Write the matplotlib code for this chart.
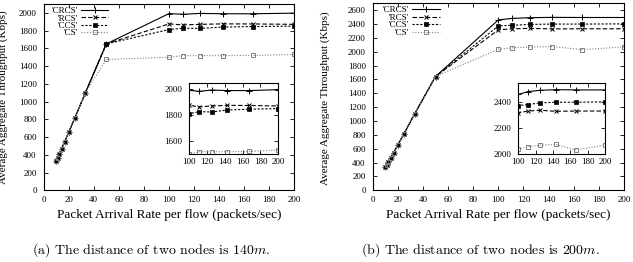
import matplotlib
matplotlib.use("Agg")
import matplotlib.pyplot as plt

plt.rcParams['font.family'] = ['Liberation Serif', 'DejaVu Serif']
plt.rcParams['mathtext.fontset'] = 'cm'

# packet arrival rate per flow (packets/sec)
rate = [10, 11.1, 12.5, 14.3, 16.7, 20, 25, 33.3, 50, 100, 111.1, 125, 142.9, 166.7, 200]

# (a) distance 140m
crcs_a = [330, 365, 410, 470, 545, 655, 820, 1100, 1650, 1992, 1984, 1994, 1990, 1990, 1997]
rcs_a = [330, 365, 410, 470, 545, 655, 820, 1100, 1650, 1876, 1864, 1871, 1876, 1875, 1871]
ccs_a = [330, 365, 410, 470, 545, 655, 820, 1100, 1650, 1812, 1827, 1825, 1840, 1846, 1851]
cs_a = [330, 365, 410, 470, 545, 655, 820, 1100, 1475, 1500, 1518, 1518, 1518, 1520, 1531]

# (b) distance 200m
crcs_b = [330, 365, 410, 470, 545, 655, 820, 1100, 1643, 2460, 2482, 2492, 2497, 2495, 2495]
rcs_b = [330, 365, 410, 470, 545, 655, 820, 1100, 1643, 2317, 2332, 2338, 2330, 2332, 2332]
ccs_b = [330, 365, 410, 470, 545, 655, 820, 1100, 1643, 2374, 2382, 2395, 2400, 2400, 2403]
cs_b = [330, 365, 410, 470, 545, 655, 820, 1100, 1643, 2036, 2057, 2068, 2075, 2031, 2070]

labels = ["'CRCS'", "'RCS'", "'CCS'", "'CS'"]
styles = [
    dict(color='black', ls='-', marker='+', ms=4, mew=0.7),
    dict(color='black', ls=(0, (4, 2)), marker='x', ms=2.6, mew=0.7),
    dict(color='black', ls=(0, (2, 1.5)), marker='s', ms=2.3, mew=0.5),
    dict(color='#808080', ls=(0, (1, 1.5)), marker='s', ms=3.3, mew=0.7, mfc='none'),
]


def draw_lines(ax, series, with_labels):
    for ys, lab, st in zip(series, labels, styles):
        ax.plot(rate, ys, lw=0.8, label=lab if with_labels else None, **st)


def style_axes(ax, pad_y=5, pad_x=4):
    ax.tick_params(direction='in', top=True, right=True, length=3, width=0.6,
                   labelsize=6.5)
    ax.tick_params(axis='y', pad=pad_y)
    ax.tick_params(axis='x', pad=pad_x)
    for s in ax.spines.values():
        s.set_linewidth(0.8)


fig = plt.figure(figsize=(6.33, 2.62), dpi=100)

panels = [
    ([crcs_a, rcs_a, ccs_a, cs_a], [0.069, 0.2737, 0.396, 0.711], 2100, 2000,
     [0.299, 0.412, 0.1406, 0.272], (1500, 2050), [1600, 1800, 2000],
     (-0.142, 0.5), 0.032),
    ([crcs_b, rcs_b, ccs_b, cs_b], [0.5888, 0.2737, 0.397, 0.7137], 2700, 2600,
     [0.8188, 0.412, 0.137, 0.272], (2000, 2550), [2000, 2200, 2400],
     (-0.17, 0.49), 0.041),
]

for series, pos, ytop, ymaxtick, ipos, ilim, iticks, lab_xy, leg_x in panels:
    ax = fig.add_axes(pos)
    draw_lines(ax, series, True)
    ax.set_xlim(0, 200)
    ax.set_ylim(0, ytop)
    ax.set_xticks(range(0, 201, 20))
    ax.set_yticks(range(0, ymaxtick + 1, 200))
    style_axes(ax)
    ax.set_xlabel('Packet Arrival Rate per flow (packets/sec)', fontsize=9.5, labelpad=4)
    ax.set_ylabel('Average Aggregate Throughput (Kbps)', fontsize=8)
    ax.yaxis.set_label_coords(*lab_xy)
    ax.legend(loc='upper left', bbox_to_anchor=(leg_x, 0.985), frameon=False,
              markerfirst=False, fontsize=6.5, handlelength=3, handletextpad=0.35,
              labelspacing=-0.1, borderpad=0, borderaxespad=0)

    ins = fig.add_axes(ipos)
    draw_lines(ins, series, False)
    ins.set_xlim(100, 200)
    ins.set_ylim(*ilim)
    ins.set_xticks(range(100, 201, 20))
    ins.set_yticks(iticks)
    style_axes(ins, pad_y=5, pad_x=3)

fig.text(0.238, 0.046, '(a) The distance of two nodes is 140$m$.', family='cmr10',
         fontsize=10, ha='center', va='center')
fig.text(0.759, 0.046, '(b) The distance of two nodes is 200$m$.', family='cmr10',
         fontsize=10, ha='center', va='center')

fig.savefig('out.png', dpi=100)
